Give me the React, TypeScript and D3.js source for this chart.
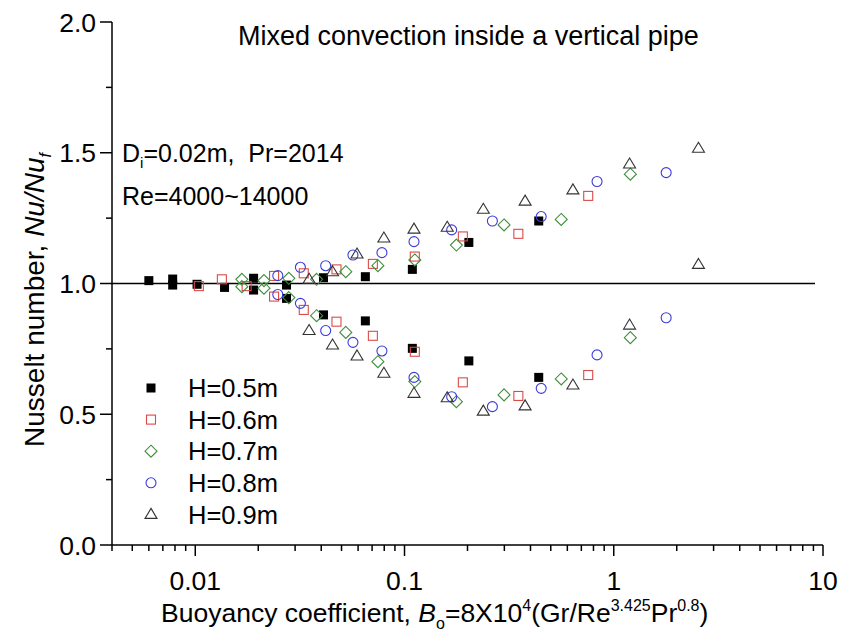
import React from 'react';
import * as d3 from 'd3';

const W = 841;
const H = 641;

const xTicks = [0.01, 0.1, 1, 10];
const xTickLabels = ['0.01', '0.1', '1', '10'];
const yTicks = [0, 0.5, 1.0, 1.5, 2.0];
const yTickLabels = ['0.0', '0.5', '1.0', '1.5', '2.0'];
const yMinorTicks = [0.25, 0.75, 1.25, 1.75];

const seriesNames = ['H=0.5m', 'H=0.6m', 'H=0.7m', 'H=0.8m', 'H=0.9m'];

const h05: [number, number][] = [
  [0.006, 1.011], [0.0078, 1.017], [0.0078, 0.994], [0.0102, 0.997], [0.0138, 0.985],
  [0.019, 1.02], [0.019, 0.975], [0.0273, 0.994], [0.0273, 0.943], [0.041, 1.022],
  [0.041, 0.88], [0.065, 1.026], [0.065, 0.857], [0.109, 1.054], [0.109, 0.752],
  [0.203, 1.157], [0.203, 0.704], [0.438, 1.239], [0.438, 0.641],
];
const h06: [number, number][] = [
  [0.0104, 0.99], [0.0134, 1.016], [0.0176, 0.99], [0.0238, 1.029], [0.0238, 0.95],
  [0.033, 1.039], [0.033, 0.899], [0.0473, 1.054], [0.0473, 0.854], [0.0706, 1.075],
  [0.0706, 0.8], [0.112, 1.103], [0.112, 0.739], [0.19, 1.18], [0.19, 0.622],
  [0.35, 1.19], [0.35, 0.57], [0.755, 1.335], [0.755, 0.65],
];
const h07: [number, number][] = [
  [0.0167, 1.016], [0.0167, 0.988], [0.0213, 1.011], [0.0213, 0.982], [0.028, 1.02],
  [0.028, 0.946], [0.038, 1.016], [0.038, 0.877], [0.0524, 1.045], [0.0524, 0.813],
  [0.0746, 1.068], [0.0746, 0.701], [0.112, 1.09], [0.112, 0.625], [0.177, 1.147],
  [0.177, 0.548], [0.299, 1.224], [0.299, 0.574], [0.561, 1.245], [0.561, 0.635],
  [1.2, 1.418], [1.2, 0.793],
];
const h08: [number, number][] = [
  [0.0248, 1.03], [0.0248, 0.958], [0.0318, 1.062], [0.0318, 0.924], [0.042, 1.068],
  [0.042, 0.82], [0.0567, 1.109], [0.0567, 0.775], [0.078, 1.118], [0.078, 0.742],
  [0.111, 1.16], [0.111, 0.641], [0.168, 1.205], [0.168, 0.567], [0.263, 1.239],
  [0.263, 0.529], [0.45, 1.256], [0.45, 0.599], [0.832, 1.39], [0.832, 0.727],
  [1.78, 1.424], [1.78, 0.869],
];
const h09: [number, number][] = [
  [0.035, 1.016], [0.035, 0.82], [0.0453, 1.045], [0.0453, 0.765], [0.0593, 1.113],
  [0.0593, 0.723], [0.0797, 1.174], [0.0797, 0.657], [0.111, 1.208], [0.111, 0.58],
  [0.16, 1.215], [0.16, 0.563], [0.238, 1.284], [0.238, 0.512], [0.377, 1.315],
  [0.377, 0.532], [0.638, 1.358], [0.638, 0.612], [1.19, 1.457], [1.19, 0.841],
  [2.54, 1.517], [2.54, 1.073],
];

const allSeries = [h05, h06, h07, h08, h09];
const shapes = ['squareFilled', 'square', 'diamond', 'circle', 'triangle'];
const colors = ['#000000', '#dc4a48', '#3f8f3c', '#3c3cd8', '#333333'];

const FONT = "'Liberation Sans', Arial, sans-serif";

function Marker({ shape, cx, cy, color }: { shape: string; cx: number; cy: number; color: string }) {
  switch (shape) {
    case 'squareFilled':
      return <rect x={cx - 4.5} y={cy - 4.5} width={9} height={9} fill={color} />;
    case 'square':
      return <rect x={cx - 4.5} y={cy - 4.5} width={9} height={9} fill="none" stroke={color} strokeWidth={1.1} />;
    case 'diamond':
      return (
        <path
          d={`M${cx},${cy - 6}L${cx + 6},${cy}L${cx},${cy + 6}L${cx - 6},${cy}Z`}
          fill="none" stroke={color} strokeWidth={1.1}
        />
      );
    case 'circle':
      return <circle cx={cx} cy={cy} r={5} fill="none" stroke={color} strokeWidth={1.1} />;
    case 'triangle':
      return (
        <path
          d={`M${cx},${cy - 6}L${cx + 6},${cy + 4}L${cx - 6},${cy + 4}Z`}
          fill="none" stroke={color} strokeWidth={1.1}
        />
      );
    default:
      return null;
  }
}

export default function App() {
  const x = d3.scaleLog().domain([0.004, 10]).range([112, 823]);
  const y = d3.scaleLinear().domain([0, 2]).range([545, 22]);

  const xMinor: number[] = [];
  for (let d = -3; d <= 0; d++) {
    for (let k = 2; k <= 9; k++) {
      const v = k * Math.pow(10, d);
      if (v >= 0.004 - 1e-9 && v <= 10) xMinor.push(v);
    }
  }

  const x0 = x.range()[0];
  const y0 = y(0);

  return (
    <svg width={W} height={H} style={{ position: 'absolute', left: 0, top: 0, background: '#fff' }}
      fontFamily={FONT}>
      <rect width={W} height={H} fill="#fff" />
      <line x1={x0} x2={815} y1={y(1)} y2={y(1)} stroke="#000" strokeWidth={1.4} />

      <line x1={x0} x2={x0} y1={y(2)} y2={y0} stroke="#000" strokeWidth={1.5} />
      <line x1={x0} x2={x(10)} y1={y0} y2={y0} stroke="#000" strokeWidth={1.5} />

      {yTicks.map((t, i) => (
        <g key={'yt' + i}>
          <line x1={x0 - 12} x2={x0} y1={y(t)} y2={y(t)} stroke="#000" strokeWidth={1.5} />
          <text x={x0 - 16} y={y(t)} dy="0.36em" textAnchor="end" fontSize={26.5}>{yTickLabels[i]}</text>
        </g>
      ))}
      {yMinorTicks.map((t, i) => (
        <line key={'ym' + i} x1={x0 - 6} x2={x0} y1={y(t)} y2={y(t)} stroke="#000" strokeWidth={1.5} />
      ))}
      {xTicks.map((t, i) => (
        <g key={'xt' + i}>
          <line x1={x(t)} x2={x(t)} y1={y0} y2={y0 + 11} stroke="#000" strokeWidth={1.5} />
          <text x={x(t)} y={y0 + 45} textAnchor="middle" fontSize={26.5}>{xTickLabels[i]}</text>
        </g>
      ))}
      {xMinor.map((t, i) => (
        <line key={'xm' + i} x1={x(t)} x2={x(t)} y1={y0} y2={y0 + 6} stroke="#000" strokeWidth={1.5} />
      ))}

      <text x={238} y={45} fontSize={27}>Mixed convection inside a vertical pipe</text>

      <text x={122} y={162} fontSize={25} style={{ whiteSpace: 'pre' }}>
        D<tspan fontSize={15} dy={6}>i</tspan><tspan dy={-6}>{'=0.02m,  Pr=2014'}</tspan>
      </text>
      <text x={122} y={205} fontSize={25}>Re=4000~14000</text>

      <text x={161} y={622} fontSize={26.5}>
        Buoyancy coefficient, <tspan fontStyle="italic">B</tspan>
        <tspan fontSize={16} dy={7}>o</tspan>
        <tspan dy={-7}>=8X10</tspan>
        <tspan fontSize={16} dy={-11}>4</tspan>
        <tspan dy={11}>(Gr/Re</tspan>
        <tspan fontSize={16} dy={-11}>3.425</tspan>
        <tspan dy={11}>Pr</tspan>
        <tspan fontSize={16} dy={-11}>0.8</tspan>
        <tspan dy={11}>)</tspan>
      </text>

      <text transform={`translate(44,300) rotate(-90)`} textAnchor="middle" fontSize={28}>
        Nusselt number, <tspan fontStyle="italic">Nu/Nu</tspan>
        <tspan fontStyle="italic" fontSize={16} dy={7}>f</tspan>
      </text>

      {allSeries.map((s, si) => (
        <g key={'s' + si}>
          {s.map((p, pi) => (
            <Marker key={pi} shape={shapes[si]} cx={x(p[0])} cy={y(p[1])} color={colors[si]} />
          ))}
        </g>
      ))}

      {seriesNames.map((n, i) => (
        <g key={'lg' + i}>
          <Marker shape={shapes[i]} cx={151} cy={388 + i * 31.6} color={colors[i]} />
          <text x={188} y={388 + i * 31.6} dy="0.36em" fontSize={25.5}>{n}</text>
        </g>
      ))}
    </svg>
  );
}
